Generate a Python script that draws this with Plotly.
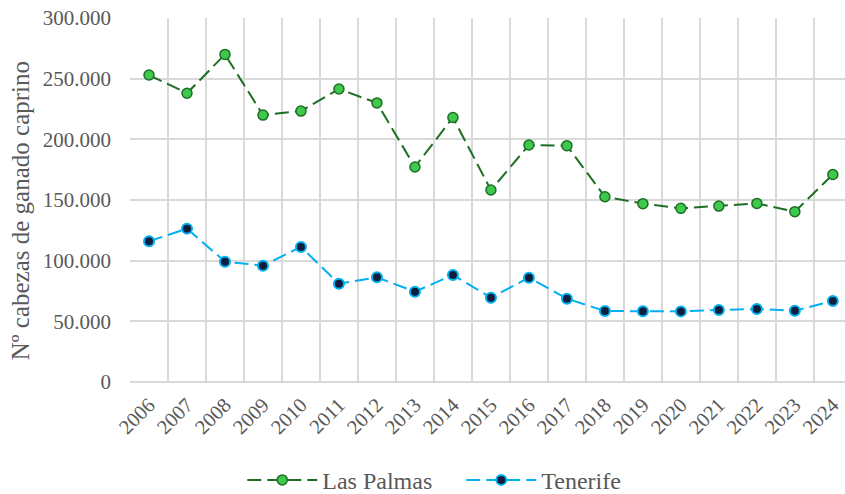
import plotly.graph_objects as go

years = [str(y) for y in range(2006, 2025)]

las_palmas = [253000, 238000, 270000, 220000, 223300, 241500, 230000, 177200, 218000,
              158200, 195300, 194800, 152700, 147000, 143100, 145000, 147200, 140400, 171000]
tenerife = [116000, 126400, 99200, 95900, 111300, 81000, 86300, 74400, 88200,
            69500, 86000, 68700, 58500, 58400, 58200, 59300, 60200, 58800, 66800]

y_title = 'Nº cabezas de ganado caprino'

FONT = 'Liberation Serif'
TXT = '#595959'
GRID = '#d9d9d9'
DASH = '14px,6px'

fig = go.Figure()

fig.add_trace(go.Scatter(
    x=years, y=las_palmas, name='Las Palmas', mode='lines+markers',
    line=dict(color='#1e6e25', width=2, dash=DASH),
    marker=dict(size=10, color='#3ec84c', line=dict(color='#1e6e25', width=1.5)),
))
fig.add_trace(go.Scatter(
    x=years, y=tenerife, name='Tenerife', mode='lines+markers',
    line=dict(color='#00b0f0', width=2, dash=DASH),
    marker=dict(size=10, color='#0e1f3d', line=dict(color='#00b0f0', width=2)),
))

fig.update_layout(
    width=845,
    height=494,
    margin=dict(l=130, r=0, t=18, b=112, autoexpand=False),
    paper_bgcolor='white',
    plot_bgcolor='white',
    separators=',.',
    font=dict(family=FONT, size=20, color=TXT),
    showlegend=True,
    legend=dict(
        orientation='h', x=0.157, xanchor='left', y=-0.27, yanchor='middle',
        itemwidth=70, entrywidth=134,
        font=dict(family=FONT, size=24, color=TXT),
    ),
)

# axis title as an annotation so it can sit exactly where the reference has it
fig.add_annotation(
    text=y_title, textangle=-90, showarrow=False,
    xref='paper', yref='paper', x=-0.152, y=0.47, xanchor='center', yanchor='middle',
    font=dict(family=FONT, size=25, color=TXT),
)

fig.update_xaxes(
    type='category',
    range=[-0.5, 18.32],
    tickson='boundaries',
    showgrid=True, gridcolor=GRID, gridwidth=1.5,
    showline=False, zeroline=False,
    tickangle=-45,
    tickfont=dict(family=FONT, size=20.5, color=TXT),
    ticklabelstandoff=6,
    ticks='',
    automargin=False,
)

fig.update_yaxes(
    range=[0, 300000],
    dtick=50000,
    tickformat=',d',
    showgrid=True, gridcolor=GRID, gridwidth=1.5,
    zeroline=True, zerolinecolor=GRID, zerolinewidth=1.5,
    tickfont=dict(family=FONT, size=21, color=TXT),
    ticklabelstandoff=18,
    automargin=False,
)

# page body has a default 8px margin; drop it so the figure sits at the window corner
fig.write_html('out.html', config={'displayModeBar': False},
               post_script="document.body.style.margin='0';")
